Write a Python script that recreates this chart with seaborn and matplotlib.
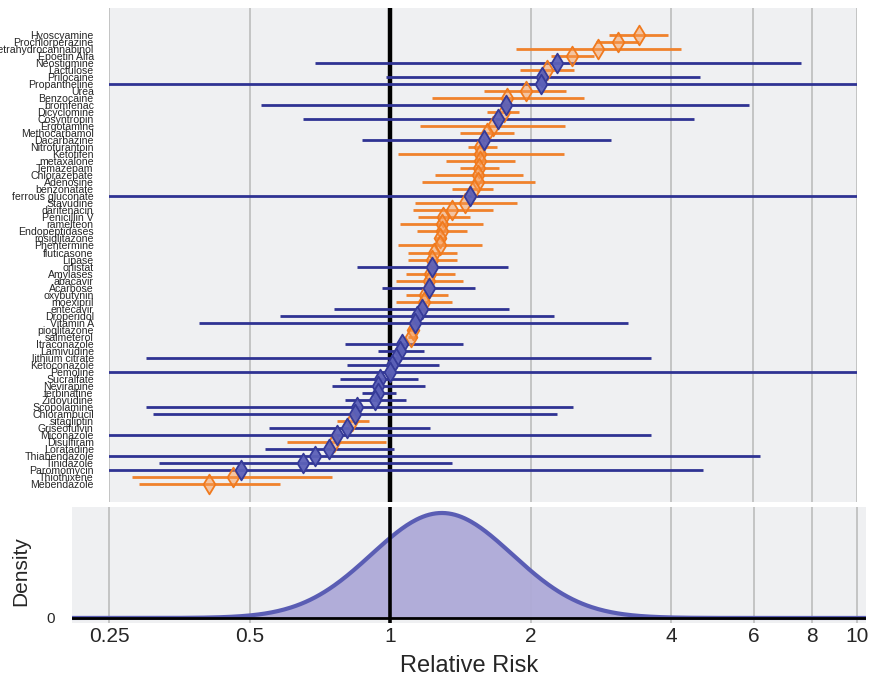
import numpy as np
import pandas as pd
import matplotlib
matplotlib.use("Agg")
import matplotlib.pyplot as plt
import seaborn as sns
from matplotlib.ticker import NullLocator

# ---------------- data ----------------
drugs = ["Hyoscyamine", "Prochlorperazine", "Tetrahydrocannabinol", "Epoetin Alfa",
         "Neostigmine", "Lactulose", "Prilocaine", "Propantheline", "Urea", "Benzocaine",
         "bromfenac", "Dicyclomine", "Cosyntropin", "Ergotamine", "Methocarbamol",
         "Dacarbazine", "Nitrofurantoin", "Ketotifen", "metaxalone", "Temazepam",
         "Chlorazepate", "Adenosine", "benzonatate", "ferrous gluconate", "Stavudine",
         "darifenacin", "Penicillin V", "ramelteon", "Endopeptidases", "rosiglitazone",
         "Phentermine", "fluticasone", "Lipase", "orlistat", "Amylases", "abacavir",
         "Acarbose", "oxybutynin", "moexipril", "entecavir", "Droperidol", "Vitamin A",
         "pioglitazone", "salmeterol", "Itraconazole", "Lamivudine", "lithium citrate",
         "Ketoconazole", "Pemoline", "Sucralfate", "Nevirapine", "terbinafine",
         "Zidovudine", "Scopolamine", "Chlorambucil", "sitagliptin", "Griseofulvin",
         "Miconazole", "Disulfiram", "Loratadine", "Thiabendazole", "Tinidazole",
         "Paromomycin", "Thiothixene", "Mebendazole"]

est = [3.41, 3.07, 2.79, 2.45, 2.28, 2.17, 2.12, 2.10, 1.95, 1.78,
       1.77, 1.75, 1.70, 1.66, 1.61, 1.59, 1.56, 1.56, 1.56, 1.55,
       1.54, 1.54, 1.51, 1.48, 1.45, 1.36, 1.30, 1.29, 1.29, 1.28,
       1.28, 1.24, 1.23, 1.23, 1.22, 1.21, 1.21, 1.19, 1.18, 1.17,
       1.14, 1.13, 1.12, 1.11, 1.06, 1.05, 1.03, 1.01, 1.00, 0.95,
       0.94, 0.94, 0.93, 0.85, 0.84, 0.83, 0.81, 0.77, 0.76, 0.74,
       0.69, 0.65, 0.48, 0.46, 0.41]

lower = [2.95, 2.76, 1.86, 2.21, 0.69, 1.90, 0.98, 0.15, 1.59, 1.23,
         0.53, 1.61, 0.65, 1.16, 1.41, 0.87, 1.47, 1.04, 1.32, 1.41,
         1.25, 1.17, 1.36, 0.15, 1.13, 1.12, 1.15, 1.05, 1.14, 1.25,
         1.04, 1.09, 1.09, 0.85, 1.08, 1.03, 0.96, 1.08, 1.03, 0.76,
         0.58, 0.39, 1.09, 1.09, 0.80, 0.94, 0.30, 0.81, 0.15, 0.78,
         0.75, 0.87, 0.80, 0.30, 0.31, 0.77, 0.55, 0.15, 0.60, 0.54,
         0.15, 0.32, 0.15, 0.28, 0.29]

upper = [3.94, 3.42, 4.19, 2.73, 7.57, 2.48, 4.61, 15.0, 2.38, 2.60,
         5.87, 1.89, 4.47, 2.37, 1.84, 2.97, 1.69, 2.36, 1.85, 1.71,
         1.93, 2.04, 1.66, 15.0, 1.87, 1.66, 1.48, 1.58, 1.46, 1.32,
         1.57, 1.39, 1.39, 1.79, 1.38, 1.43, 1.52, 1.33, 1.36, 1.80,
         2.24, 3.23, 1.14, 1.14, 1.43, 1.18, 3.62, 1.27, 15.0, 1.15,
         1.19, 1.03, 1.08, 2.46, 2.28, 0.90, 1.22, 3.62, 0.98, 1.02,
         6.19, 1.36, 4.67, 0.75, 0.58]

group = ["A", "A", "A", "A", "B", "A", "B", "B", "A", "A",
         "B", "A", "B", "A", "A", "B", "A", "A", "A", "A",
         "A", "A", "A", "B", "A", "A", "A", "A", "A", "A",
         "A", "A", "A", "B", "A", "A", "B", "A", "A", "B",
         "B", "B", "A", "A", "B", "B", "B", "B", "B", "B",
         "B", "B", "B", "B", "B", "A", "B", "B", "A", "B",
         "B", "B", "B", "A", "A"]

xticks = [0.25, 0.5, 1, 2, 4, 6, 8, 10]
xticklabels = ["0.25", "0.5", "1", "2", "4", "6", "8", "10"]

# overall density curve (normal on the log scale)
density_peak_rr = 1.29      # relative risk at the density peak
density_sd_log2 = 0.50      # spread of the density, in log2 units

df = pd.DataFrame({"drug": drugs, "est": est, "lo": lower, "hi": upper, "group": group})
df["pos"] = np.arange(len(df))

# ---------------- style ----------------
sns.set_theme(style="white")
plt.rcParams["font.family"] = ["Liberation Sans", "DejaVu Sans"]

BG = "#eff0f2"
GRID = "#b8b8b8"
TXT = "#262626"
line_col = {"A": "#f0822c", "B": "#2f3393"}
edge_col = {"A": "#f07a1e", "B": "#353a98"}
face_col = {"A": (0.97, 0.60, 0.32, 0.50), "B": (0.36, 0.38, 0.72, 0.95)}

fig = plt.figure(figsize=(8.7, 6.84), dpi=100)
W, H = 870, 684
ax = fig.add_axes([109 / W, 1 - 502 / H, (857 - 109) / W, (502 - 8) / H])
ax2 = fig.add_axes([72 / W, 1 - 623 / H, (866 - 72) / W, (623 - 507) / H])

# ---------------- top forest panel ----------------
ax.set_facecolor(BG)
ax.set_xscale("log")
for v in xticks:
    ax.axvline(v, color=GRID, lw=1.1, zorder=0)
ax.axvline(1, color="black", lw=3.2, zorder=1)
ax.hlines(df["pos"], df["lo"], df["hi"], colors=df["group"].map(line_col), lw=2.0, zorder=2)
for g in ["A", "B"]:
    sub = df[df["group"] == g]
    sns.scatterplot(data=sub, x="est", y="pos", marker="d", s=100, ax=ax,
                    color=edge_col[g], edgecolor=edge_col[g], linewidth=1.3,
                    legend=False, zorder=3)
    ax.collections[-1].set_facecolor(face_col[g])

ax.set_xlim(0.25, 10)
ax.set_ylim(66.56, -3.85)
ax.set_xticks(xticks)
ax.set_xticklabels([])
ax.xaxis.set_minor_locator(NullLocator())
ax.set_yticks(df["pos"])
ax.set_yticklabels(df["drug"], fontsize=7.6, color=TXT)
ax.tick_params(axis="both", length=0)
ax.tick_params(axis="y", pad=11)
ax.set_xlabel("")
ax.set_ylabel("")
for s in ax.spines.values():
    s.set_visible(False)

# ---------------- bottom density panel ----------------
ax2.set_facecolor(BG)
ax2.set_xscale("log")
for v in xticks:
    ax2.axvline(v, color=GRID, lw=1.1, zorder=0)
grid = np.logspace(np.log10(0.2), np.log10(10.5), 500)
z = (np.log2(grid) - np.log2(density_peak_rr)) / density_sd_log2
dens = np.exp(-0.5 * z ** 2) / (density_sd_log2 * np.sqrt(2 * np.pi))
ax2.fill_between(grid, 0, dens, color="#aeaad8", alpha=0.95, lw=0, zorder=1)
sns.lineplot(x=grid, y=dens, ax=ax2, color="#5a5db4", lw=3, zorder=2)
ymax = dens.max()
ax2.axhline(0, color="black", lw=2, zorder=3)
ax2.axvline(1, color="black", lw=2.6, zorder=4)
ax2.set_ylim(-0.048 * ymax, 1.057 * ymax)
ax2.set_xlim(0.2083, 10.44)
ax2.set_xticks(xticks)
ax2.set_xticklabels(xticklabels, fontsize=15, color=TXT)
ax2.xaxis.set_minor_locator(NullLocator())
ax2.set_yticks([0])
ax2.set_yticklabels(["0"], fontsize=11, color=TXT)
ax2.tick_params(axis="both", length=0)
ax2.tick_params(axis="y", pad=12)
ax2.tick_params(axis="x", pad=3)
ax2.set_xlabel("Relative Risk", fontsize=17, color=TXT, labelpad=6)
ax2.set_ylabel("Density", fontsize=15, color=TXT)
ax2.yaxis.set_label_coords(-0.053, 0.45)
for s in ax2.spines.values():
    s.set_visible(False)

fig.savefig("out.png", dpi=100, facecolor="white")
